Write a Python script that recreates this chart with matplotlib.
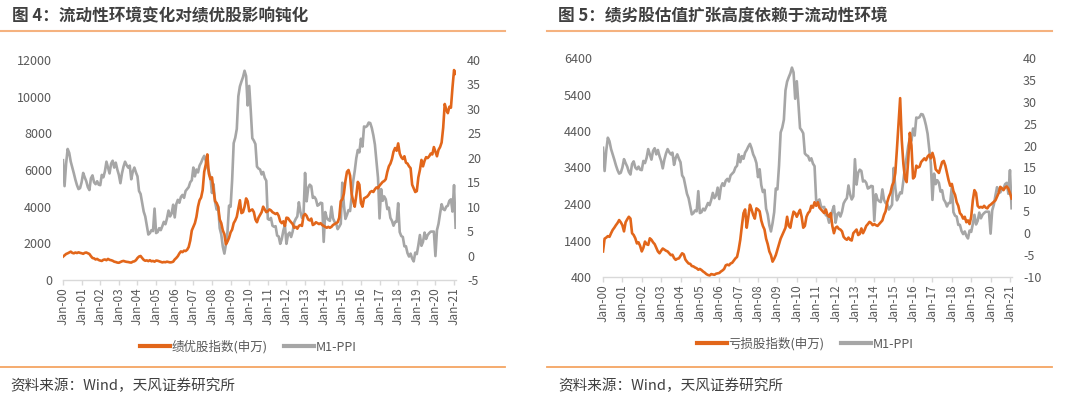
import numpy as np
import pandas as pd
import matplotlib
matplotlib.use('Agg')
import matplotlib.pyplot as plt
from matplotlib.lines import Line2D

plt.rcParams['font.family'] = ['Noto Sans CJK SC', 'DejaVu Sans']
plt.rcParams['axes.unicode_minus'] = False

# monthly, Jan-2000 .. Feb-2021
m1_ppi = [
    19.5, 14.2, 18.8, 21.8, 21.0, 19.2, 18.0, 16.8, 15.5, 14.4, 13.6, 13.8,
    15.0, 16.9, 16.0, 15.2, 14.0, 13.4, 15.8, 16.4, 15.0, 14.6, 15.2, 14.5,
    14.4, 16.5, 16.0, 17.2, 19.2, 18.0, 16.8, 18.8, 19.4, 18.0, 19.0, 17.6,
    16.5, 14.8, 16.8, 18.2, 19.2, 18.5, 18.0, 18.4, 15.6, 17.2, 18.0, 17.0,
    16.2, 13.2, 12.6, 10.8, 9.0, 8.0, 6.2, 4.3, 4.6, 5.2, 5.0, 9.6,
    4.6, 4.8, 5.6, 5.2, 6.0, 6.9, 6.4, 7.6, 9.2, 8.0, 8.6, 10.4,
    7.8, 10.5, 11.4, 10.8, 12.0, 12.4, 11.8, 13.2, 13.6, 14.0, 15.0, 15.4,
    18.0, 16.2, 17.6, 17.0, 18.4, 19.0, 19.8, 20.4, 19.4, 18.0, 17.2, 16.0,
    12.8, 14.6, 11.0, 9.4, 9.9, 5.6, 4.3, 1.8, 0.4, 2.3, 4.8, 10.2,
    10.0, 15.4, 23.0, 24.1, 25.9, 32.6, 34.6, 35.6, 36.5, 37.8, 36.7, 30.7,
    34.7, 29.6, 24.0, 23.5, 22.8, 18.2, 17.8, 17.6, 16.6, 17.1, 15.9, 15.3,
    7.5, 7.3, 7.7, 6.1, 5.9, 6.0, 4.1, 3.9, 2.4, 3.4, 5.1, 6.2,
    2.4, 4.3, 4.7, 3.8, 4.9, 6.8, 7.5, 8.0, 10.9, 8.9, 7.7, 8.4,
    16.9, 11.1, 13.8, 14.5, 14.2, 11.8, 12.0, 11.5, 10.2, 10.4, 10.8, 10.7,
    2.8, 8.9, 7.7, 7.3, 7.1, 10.0, 7.6, 6.9, 6.6, 5.4, 5.9, 6.5,
    14.9, 10.4, 7.5, 8.3, 9.3, 9.1, 12.0, 15.2, 17.3, 19.9, 21.6, 21.1,
    23.9, 22.3, 26.4, 26.3, 26.5, 27.2, 27.1, 26.1, 24.6, 22.7, 19.4, 15.9,
    7.6, 13.6, 11.2, 12.1, 11.5, 9.5, 9.8, 7.7, 7.1, 6.1, 6.9, 6.9,
    10.7, 4.8, 4.0, 3.8, 1.9, 1.9, 0.5, -0.2, 0.4, -0.6, -1.2, 0.6,
    0.3, 2.1, 4.2, 2.0, 2.8, 4.7, 3.4, 4.2, 4.6, 4.9, 4.9, 4.9,
    -0.1, 5.2, 6.5, 8.6, 10.5, 9.5, 9.3, 10.0, 10.2, 11.2, 11.5, 9.0,
    14.4, 5.7,
]

quality_idx = [
    1273, 1350, 1420, 1455, 1500, 1546, 1480, 1455, 1500, 1470, 1510, 1480,
    1460, 1430, 1480, 1500, 1460, 1420, 1300, 1200, 1180, 1120, 1150, 1090,
    1060, 1040, 1100, 1120, 1080, 1150, 1100, 1080, 1050, 1000, 980, 950,
    940, 980, 1020, 1040, 1010, 990, 980, 960, 950, 1000, 1020, 1080,
    1200, 1280, 1310, 1200, 1100, 1050, 1070, 1030, 1080, 1020, 1040, 1000,
    1060, 1050, 1020, 990, 960, 980, 970, 1000, 980, 960, 970, 1000,
    1120, 1200, 1300, 1450, 1560, 1520, 1600, 1580, 1650, 1800, 2150, 2700,
    2900, 3100, 3450, 4000, 4350, 4500, 4900, 5900, 6300, 6850, 5800, 5500,
    5600, 4900, 4300, 4200, 4000, 3300, 3100, 2700, 2500, 1950, 2100, 2300,
    2600, 2750, 3100, 3250, 3450, 3900, 4350, 3650, 3700, 4000, 4450, 4300,
    3750, 3800, 3850, 3700, 3300, 3150, 3400, 3550, 3700, 4000, 3850, 3700,
    3750, 3850, 3800, 3700, 3650, 3600, 3650, 3500, 3200, 3100, 3200, 2950,
    3400, 3380, 3250, 3150, 3050, 2850, 2900, 2800, 2950, 3000, 2950, 3500,
    3600, 3500, 3300, 3250, 3350, 3000, 3050, 3150, 3100, 3050, 3100, 3000,
    2950, 2900, 2850, 2900, 2850, 2900, 3000, 3050, 3100, 3150, 3400, 4300,
    4400, 4700, 5400, 5900, 6000, 5700, 4700, 4300, 4000, 4600, 5350, 5200,
    4200, 4000, 4450, 4500, 4550, 4650, 4800, 4850, 4800, 4950, 5050, 5000,
    5150, 5250, 5350, 5400, 5500, 5900, 6200, 6350, 6600, 7000, 7200, 7050,
    7450, 6900, 6700, 6600, 6750, 6400, 6350, 6200, 6100, 5200, 5000, 4800,
    4850, 5600, 6000, 6550, 6200, 6500, 6700, 6650, 6750, 6900, 6850, 7250,
    7000, 6750, 7100, 7250, 7500, 8300, 9600, 9300, 9100, 9450, 9400, 10500,
    11450, 11250,
]

loss_idx = [
    1100, 1450, 1480, 1520, 1500, 1600, 1690, 1750, 1820, 1880, 1960, 1900,
    1820, 1650, 1900, 1980, 2050, 2000, 1600, 1550, 1460, 1320, 1350, 1250,
    1100, 1200, 1370, 1300, 1280, 1460, 1420, 1350, 1300, 1200, 1100, 1050,
    1120, 1180, 1150, 1120, 1100, 1050, 1000, 1010, 920, 870, 900, 910,
    980, 1050, 1020, 880, 820, 770, 760, 700, 690, 660, 640, 600,
    620, 590, 550, 520, 480, 455, 440, 480, 470, 460, 490, 500,
    510, 550, 580, 620, 720, 740, 720, 770, 790, 850, 910, 950,
    1150, 1420, 1800, 2150, 2250, 1750, 2050, 2380, 2250, 2100, 2000, 2280,
    2250, 2200, 1950, 1800, 1700, 1450, 1300, 1100, 1000, 820, 900, 1000,
    1150, 1300, 1450, 1550, 1650, 1750, 2050, 1800, 1750, 2000, 2190, 2150,
    2050, 2150, 2240, 2050, 1750, 1800, 2050, 2150, 2200, 2350, 2300, 2450,
    2350, 2450, 2300, 2250, 2200, 2150, 2250, 2100, 2050, 2150, 1800, 1600,
    1750, 1780, 1720, 1700, 1650, 1500, 1450, 1420, 1480, 1420, 1400, 1600,
    1650, 1700, 1550, 1580, 1730, 1600, 1690, 1800, 1850, 1910, 1880, 1820,
    1850, 1820, 1800, 1850, 1900, 1950, 2100, 2200, 2450, 2600, 2700, 2900,
    3000, 3250, 3900, 4600, 5300, 4150, 3500, 3100, 3000, 3600, 4350, 4000,
    3100, 3150, 3450, 3400, 3420, 3550, 3600, 3650, 3600, 3700, 3750, 3650,
    3800, 3650, 3350, 3300, 3250, 3400, 3550, 3580, 3450, 3250, 3050, 2900,
    2950, 2750, 2650, 2450, 2350, 2150, 2100, 2000, 2050, 1900, 1950, 1850,
    2050, 2500, 2780, 2700, 2350, 2300, 2320, 2300, 2350, 2300, 2280, 2350,
    2380, 2420, 2460, 2500, 2600, 2700, 2870, 2830, 2780, 2850, 2880, 2820,
    2700, 2550,
]

months = pd.date_range('2000-01-01', periods=len(m1_ppi), freq='MS')
xs = months.year + (months.month - 1) / 12.0

years = list(range(2000, 2022))
year_labels = [f"Jan-{y % 100:02d}" for y in years]

ORANGE = '#E2661A'
GRAY = '#A6A6A6'
TXT = '#595959'
AXIS = '#D9D9D9'

W, H = 1080, 399
fig = plt.figure(figsize=(W / 100, H / 100), dpi=100)


def px_axes(x0, y0, x1, y1):
    return fig.add_axes([x0 / W, 1 - y1 / H, (x1 - x0) / W, (y1 - y0) / H])


def hline(x0, x1, y, color, lw):
    fig.add_artist(Line2D([x0 / W, x1 / W], [1 - y / H, 1 - y / H],
                          color=color, lw=lw, transform=fig.transFigure))


def draw_panel(x0, x1, ytop, ybot, orange, orange_label,
               left_lim, left_ticks, right_lim, right_ticks, legend_x, legend_y):
    ax = px_axes(x0, ytop, x1, ybot)
    ax.plot(xs, orange, color=ORANGE, lw=1.9, solid_joinstyle='round')
    ax.set_xlim(2000, 2021.1)
    ax.set_ylim(*left_lim)
    ax.set_yticks(left_ticks)
    ax.set_yticklabels([str(v) for v in left_ticks])
    ax.set_xticks(years)
    ax.set_xticklabels(year_labels, rotation=90)

    ax2 = ax.twinx()
    ax2.plot(xs, m1_ppi, color=GRAY, lw=1.9, solid_joinstyle='round')
    ax2.set_ylim(*right_lim)
    ax2.set_yticks(right_ticks)
    ax2.set_yticklabels([str(v) for v in right_ticks])

    # orange series sits on top of the grey one
    ax.set_zorder(ax2.get_zorder() + 1)
    ax.patch.set_visible(False)

    for a in (ax, ax2):
        for s in ('top', 'left', 'right'):
            a.spines[s].set_visible(False)
        a.spines['bottom'].set_color(AXIS)
        a.spines['bottom'].set_linewidth(1.0)
    ax2.spines['bottom'].set_visible(False)
    ax.tick_params(axis='x', colors=AXIS, length=3.5, width=1.0, pad=1.5,
                   labelcolor=TXT, labelsize=8.5)
    ax.tick_params(axis='y', length=0, pad=8, labelcolor=TXT, labelsize=9)
    ax2.tick_params(axis='y', length=0, pad=8, labelcolor=TXT, labelsize=9)

    handles = [Line2D([], [], color=ORANGE, lw=3), Line2D([], [], color=GRAY, lw=3)]
    fig.legend(handles, [orange_label, 'M1-PPI'], loc='center',
               bbox_to_anchor=(legend_x / W, 1 - legend_y / H), ncol=2,
               frameon=False, fontsize=9, handlelength=2.4, handletextpad=0.15,
               columnspacing=1.3, labelcolor=TXT)


# left panel
fig.text(12 / W, 1 - 16 / H, '图 4：流动性环境变化对绩优股影响钝化', fontsize=12,
         fontweight='bold', color='#404040', va='center', ha='left')
hline(0, 505, 31, '#F5B27F', 1.5)
draw_panel(63, 455.9, 60, 280, quality_idx, '绩优股指数(申万)',
           (0, 12000), list(range(0, 12001, 2000)),
           (-5, 40), list(range(-5, 41, 5)), 248, 347)
hline(0, 505, 367, '#F4A562', 1.3)
fig.text(10 / W, 1 - 386 / H, '资料来源：Wind，天风证券研究所', fontsize=10.5,
         color='#404040', va='center', ha='left')

# right panel
fig.text(558 / W, 1 - 16 / H, '图 5：绩劣股估值扩张高度依赖于流动性环境', fontsize=12,
         fontweight='bold', color='#404040', va='center', ha='left')
hline(547, 1052, 31, '#F5B27F', 1.5)
draw_panel(603, 1011.9, 58, 277, loss_idx, '亏损股指数(申万)',
           (400, 6400), list(range(400, 6401, 1000)),
           (-10, 40), list(range(-10, 41, 5)), 805, 344)
hline(547, 1052, 367, '#F4A562', 1.3)
fig.text(558 / W, 1 - 386 / H, '资料来源：Wind，天风证券研究所', fontsize=10.5,
         color='#404040', va='center', ha='left')

fig.savefig('out.png', dpi=100)
